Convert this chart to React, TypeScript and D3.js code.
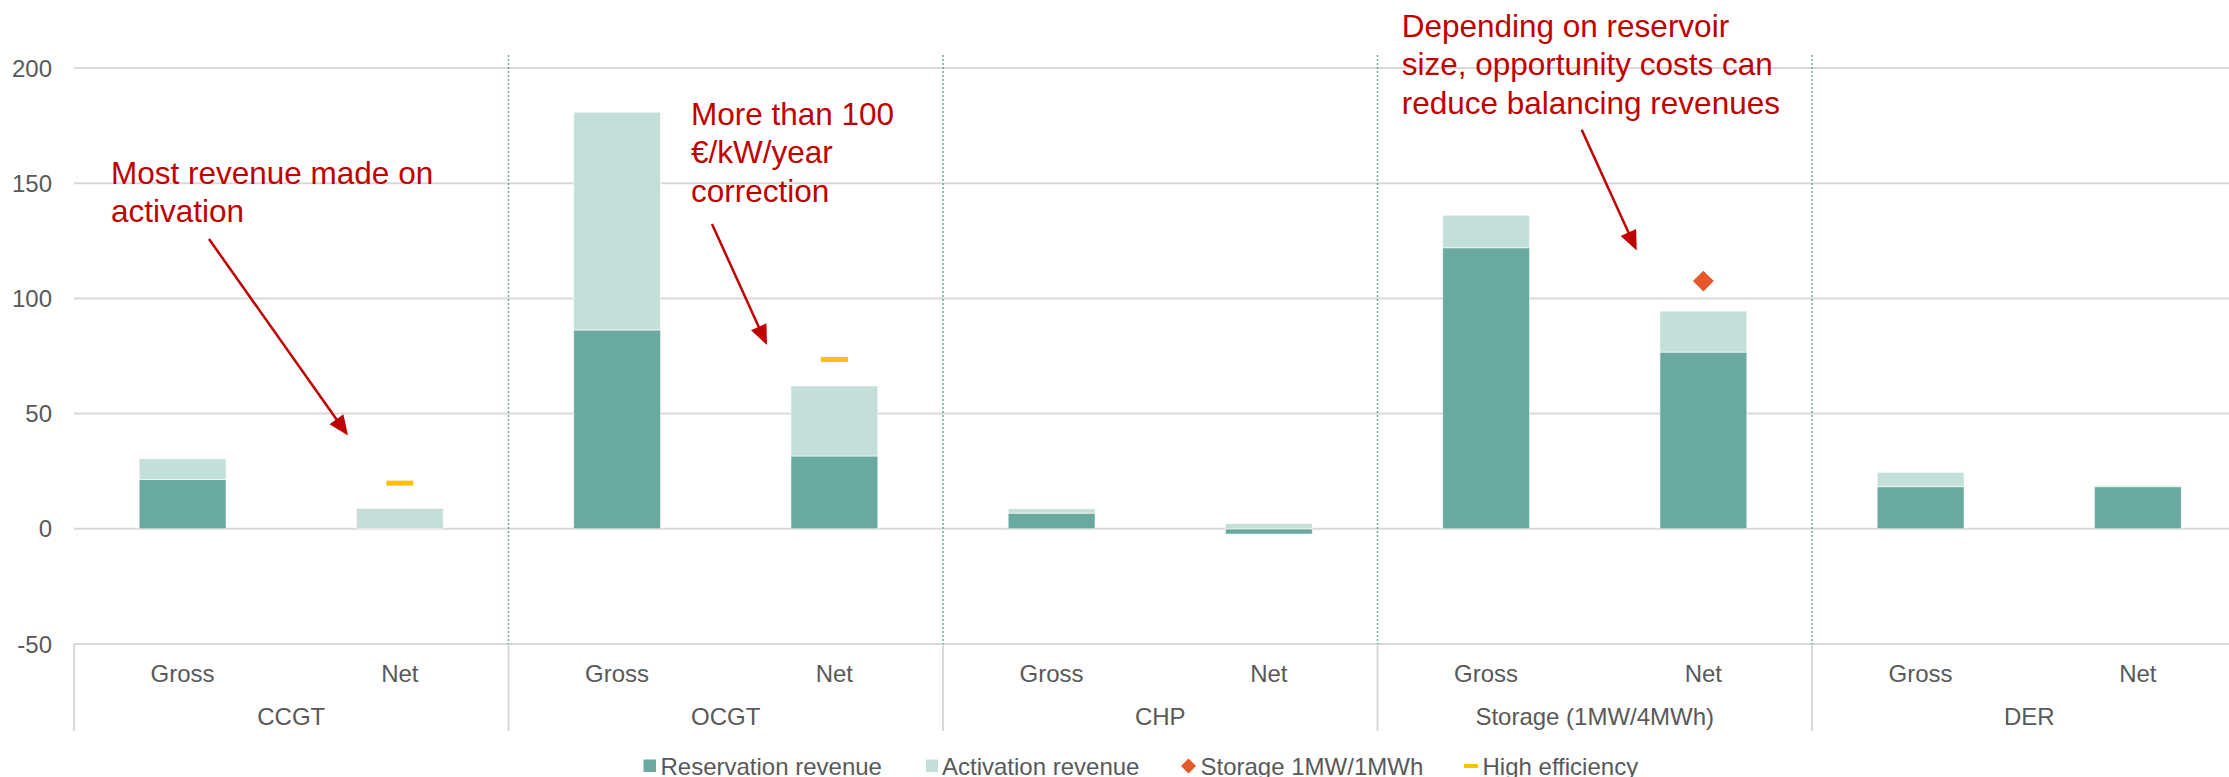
import React from "react";
import * as d3 from "d3";

// ---- data ----
const categories = ["CCGT", "OCGT", "CHP", "Storage (1MW/4MWh)", "DER"];
const subCategories = ["Gross", "Net"];
const reservationRevenue = [21.4, 0, 86.3, 31.6, 6.8, -2.3, 122.0, 76.7, 18.3, 18.3];
const activationRevenue = [9.0, 8.8, 94.5, 30.4, 1.9, 2.3, 14.1, 17.8, 6.2, 0.6];
const storage1MWh = [null, null, null, null, null, null, null, 107.5, null, null];
const highEfficiency = [null, 19.8, null, 73.5, null, null, null, null, null, null];
const yTicks = [-50, 0, 50, 100, 150, 200];
const seriesNames = ["Reservation revenue", "Activation revenue", "Storage 1MW/1MWh", "High efficiency"];

const annotations = [
  { lines: ["Most revenue made on", "activation"] },
  { lines: ["More than 100", "€/kW/year", "correction"] },
  { lines: ["Depending on reservoir", "size, opportunity costs can", "reduce balancing revenues"] },
];

const W = 2229;
const H = 777;
const FONT = "'Liberation Sans', Arial, sans-serif";
const C_RES = "#6AA99F";
const C_ACT = "#C4DFD9";
const C_DIA = "#E8572A";
const C_HE = "#FFC000";
const C_ANN = "#C00000";
const C_TEXT = "#595959";
const C_GRID = "#D9D9D9";

export default function App() {
  const left = 74;
  const catW = 434.5;
  const x0 = d3.scaleBand<string>().domain(categories).range([left, left + catW * categories.length]);
  const x1 = d3.scaleBand<string>().domain(subCategories).range([0, catW]).paddingInner(0.6).paddingOuter(0.3);
  const y = d3.scaleLinear().domain([-50, 200]).range([644, 68]);

  const rows = categories.flatMap((c, ci) =>
    subCategories.map((s, si) => {
      const i = ci * 2 + si;
      return { cat: c, sub: s, res: reservationRevenue[i], act: activationRevenue[i], dia: storage1MWh[i], he: highEfficiency[i] };
    })
  );
  const stack = d3.stack<any>().keys(["res", "act"]).offset(d3.stackOffsetDiverging);
  const layers = stack(rows);
  const colors = [C_RES, C_ACT];

  const bx = (r: any) => (x0(r.cat) as number) + (x1(r.sub) as number);
  const bw = x1.bandwidth();

  const annStarts = [
    { x: 111, y: 183.7 },
    { x: 691, y: 124.9 },
    { x: 1401.7, y: 36.5 },
  ];
  const arrowDefs = [
    { from: [209, 239], to: [348, 435.6] },
    { from: [712, 224], to: [767, 345] },
    { from: [1581.7, 129.7], to: [1636.7, 250.6] },
  ];

  const arrowHead = (from: number[], to: number[]) => {
    const dx = to[0] - from[0];
    const dy = to[1] - from[1];
    const len = Math.hypot(dx, dy);
    const ux = dx / len, uy = dy / len;
    const L = 20, Wd = 8.5;
    const bxp = to[0] - ux * L, byp = to[1] - uy * L;
    return `M${to[0]},${to[1]} L${bxp - uy * Wd},${byp + ux * Wd} L${bxp + uy * Wd},${byp - ux * Wd} Z`;
  };

  const legendY = 766;
  const legendX = [643.5, 926, 1181, 1464];

  return (
    <svg width={W} height={H} style={{ position: "absolute", left: 0, top: 0, background: "#fff" }} fontFamily={FONT}>
      {/* gridlines */}
      {yTicks.map((t) => (
        <g key={t}>
          <line x1={left} x2={W} y1={y(t)} y2={y(t)} stroke={C_GRID} strokeWidth={2} />
          <text x={52} y={y(t)} textAnchor="end" dominantBaseline="central" fontSize={24} fill={C_TEXT}>
            {t}
          </text>
        </g>
      ))}
      {/* category separators */}
      {categories.map((c, i) => (
        <g key={c}>
          <line x1={x0(c)} x2={x0(c)} y1={644} y2={731} stroke={C_GRID} strokeWidth={2} />
          {i > 0 && (
            <line x1={x0(c)} x2={x0(c)} y1={55} y2={644} stroke="#6AA99F" strokeWidth={1.5} strokeDasharray="2,2" />
          )}
          {subCategories.map((s) => (
            <text key={s} x={(x0(c) as number) + (x1(s) as number) + bw / 2} y={673} textAnchor="middle" dominantBaseline="central" fontSize={24} fill={C_TEXT}>
              {s}
            </text>
          ))}
          <text x={(x0(c) as number) + catW / 2} y={716.5} textAnchor="middle" dominantBaseline="central" fontSize={24} fill={C_TEXT}>
            {c}
          </text>
        </g>
      ))}
      {/* bars */}
      {layers.map((layer, li) => (
        <g key={li} fill={colors[li]}>
          {layer.map((d: any, i: number) => {
            const y0 = y(d[0]), y1v = y(d[1]);
            const h = Math.abs(y0 - y1v);
            if (h < 0.01) return null;
            return <rect key={i} x={bx(d.data)} width={bw} y={Math.min(y0, y1v)} height={h} stroke="#fff" strokeWidth={1} strokeOpacity={0.6} />;
          })}
        </g>
      ))}
      {/* high efficiency markers */}
      {rows.map((r, i) =>
        r.he != null ? (
          <rect key={"he" + i} x={bx(r) + bw / 2 - 13.5} y={y(r.he) - 2.5} width={27} height={5} fill={C_HE} />
        ) : null
      )}
      {/* storage diamonds */}
      {rows.map((r, i) =>
        r.dia != null ? (
          <path key={"dia" + i} d={d3.symbol().type(d3.symbolDiamond2).size(275)() as string}
            transform={`translate(${bx(r) + bw / 2},${y(r.dia)})`} fill={C_DIA} />
        ) : null
      )}
      {/* annotations */}
      {annotations.map((a, ai) => (
        <g key={"ann" + ai}>
          <text x={annStarts[ai].x} y={annStarts[ai].y} fontSize={31.5} fill={C_ANN}>
            {a.lines.map((l, li) => (
              <tspan key={li} x={annStarts[ai].x} dy={li === 0 ? 0 : 38.5}>{l}</tspan>
            ))}
          </text>
          <line x1={arrowDefs[ai].from[0]} y1={arrowDefs[ai].from[1]}
            x2={arrowDefs[ai].to[0] - (arrowDefs[ai].to[0] - arrowDefs[ai].from[0]) * 0.05}
            y2={arrowDefs[ai].to[1] - (arrowDefs[ai].to[1] - arrowDefs[ai].from[1]) * 0.05}
            stroke={C_ANN} strokeWidth={2.5} />
          <path d={arrowHead(arrowDefs[ai].from, arrowDefs[ai].to)} fill={C_ANN} />
        </g>
      ))}
      {/* legend */}
      <g fontSize={24} fill={C_TEXT}>
        <rect x={legendX[0]} y={legendY - 6.5} width={12.5} height={12.5} fill={C_RES} />
        <text x={legendX[0] + 17} y={legendY} dominantBaseline="central">{seriesNames[0]}</text>
        <rect x={legendX[1]} y={legendY - 6.5} width={12} height={12.5} fill={C_ACT} />
        <text x={legendX[1] + 16} y={legendY} dominantBaseline="central">{seriesNames[1]}</text>
        <path d={d3.symbol().type(d3.symbolDiamond2).size(143)() as string} transform={`translate(${legendX[2] + 7.5},${legendY})`} fill={C_DIA} />
        <text x={legendX[2] + 19.5} y={legendY} dominantBaseline="central">{seriesNames[2]}</text>
        <rect x={legendX[3]} y={legendY - 2} width={14} height={4} fill={C_HE} />
        <text x={legendX[3] + 18.5} y={legendY} dominantBaseline="central">{seriesNames[3]}</text>
      </g>
    </svg>
  );
}
